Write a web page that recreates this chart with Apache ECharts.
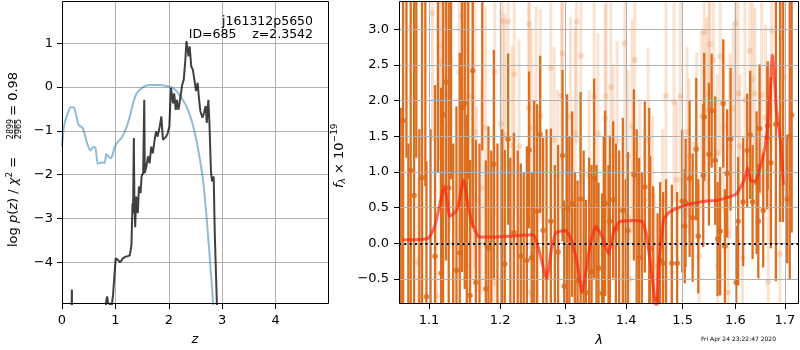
<!DOCTYPE html>
<html><head><meta charset="utf-8">
<script src="https://cdn.jsdelivr.net/npm/echarts@6/dist/echarts.min.js"></script>
<style>html,body{margin:0;padding:0;background:#fff}#c{width:800px;height:350px}</style>
</head><body><div id="c"></div>
<script>
// ---------------- tick labels ----------------
const zTicks = [0, 1, 2, 3, 4];
const logpTicks = [-4, -3, -2, -1, 0, 1];
const lamTicks = [1.1, 1.2, 1.3, 1.4, 1.5, 1.6, 1.7];
const fluxTicks = [-0.5, 0, 0.5, 1, 1.5, 2, 2.5, 3];

// ---------------- left panel: log p(z) and chi2 curve ----------------
const pzZ = [0.170,0.185,0.192,0.80,0.83,0.845,0.86,0.93,0.955,1.005,1.05,1.09,1.14,1.19,1.23,1.27,1.30,1.32,1.33,1.345,1.355,1.37,1.39,1.42,1.44,1.47,1.49,1.52,1.54,1.55,1.58,1.61,1.64,1.67,1.70,1.73,1.76,1.79,1.83,1.86,1.89,1.92,1.95,1.98,2.01,2.04,2.08,2.10,2.13,2.15,2.18,2.21,2.25,2.28,2.31,2.33,2.35,2.37,2.39,2.42,2.45,2.48,2.51,2.54,2.56,2.59,2.63,2.66,2.69,2.71,2.74,2.76,2.79,2.81,2.84,2.86,2.90,2.92];
const pzVal = [-6.0,-4.62,-6.0,-5.3,-4.86,-4.78,-4.92,-5.0,-4.75,-3.91,-3.95,-4.0,-3.91,-3.87,-3.86,-3.84,-3.6,-2.65,-2.88,-1.16,-2.58,-3.2,-2.5,-2.88,-2.27,-2.42,-2.04,-1.96,-0.29,-1.96,-1.81,-1.58,-1.74,-1.36,-1.51,-1.24,-1.01,-1.13,-0.90,-0.67,-1.2,-1.24,-1.13,-1.05,-0.9,-0.02,-0.37,-0.14,-0.52,-0.29,-0.52,-0.29,0.05,0.17,0.63,1.05,1.05,0.7,0.93,0.47,0.40,0.36,-0.09,0.1,-0.2,-0.55,-0.70,-0.58,-0.43,-0.82,-0.29,-0.82,-1.96,-2.15,-2.04,-3.34,-4.95,-6.0];
const chi2Z = [0,0.02,0.05,0.11,0.16,0.22,0.27,0.31,0.39,0.47,0.53,0.59,0.63,0.67,0.74,0.80,0.83,0.88,0.92,0.99,1.05,1.11,1.20,1.27,1.33,1.40,1.52,1.64,1.83,2.01,2.11,2.20,2.33,2.44,2.54,2.64,2.70,2.76,2.83,2.86];
const chi2Val = [-1.36,-1.05,-0.82,-0.59,-0.46,-0.46,-0.67,-0.86,-0.94,-1.28,-1.45,-1.36,-1.4,-1.75,-1.72,-1.73,-1.53,-1.6,-1.62,-1.36,-1.24,-1.17,-0.94,-0.67,-0.37,-0.14,0,0.05,0.05,0.01,-0.05,-0.18,-0.44,-0.82,-1.36,-2.12,-2.88,-3.79,-4.95,-5.6];

// ---------------- right panel: spectrum ----------------
const darkLam = [1.0656,1.0756,1.0800,1.0906,1.0965,1.1081,1.1163,1.1190,1.1231,1.1268,1.1375,1.1421,1.1453,1.1491,1.1566,1.1604,1.1648,1.1791,1.1829,1.1907,1.2068,1.2117,1.2202,1.2306,1.2398,1.2432,1.2473,1.2555,1.2601,1.2647,1.2767,1.2881,1.2951,1.2976,1.3024,1.3104,1.3191,1.3240,1.3326,1.3419,1.3462,1.3534,1.3593,1.3644,1.3723,1.3778,1.3824,1.3942,1.4028,1.4132,1.4222,1.4322,1.4417,1.4548,1.4593,1.4647,1.4804,1.4900,1.4993,1.5055,1.5129,1.5185,1.5252,1.5290,1.5383,1.5401,1.5491,1.5542,1.5610,1.5656,1.5764,1.5796,1.5840,1.5907,1.6016,1.6055,1.6153,1.6233,1.6293,1.6340,1.6421,1.6481,1.6554,1.6635,1.6710,1.6813,1.7047,
1.5040,1.5705,1.6455,1.6645,
1.0625,1.0700,1.0725,1.0830,1.0870,1.0950,1.1020,1.1120,1.1300,1.1330,1.1520,1.1540,1.1700,1.1740,1.1870,1.1960,1.2030,1.2150,1.2260,1.2350,1.2510,1.2700,1.2830,1.3060,1.3150,1.3290,1.3380,1.3500,1.3620,1.3700,1.3880,1.3990,1.4180,1.4270,1.4400,1.4470,1.4700,1.6900,1.6960,1.7140,1.7100];
const darkFlux = [1.72,1.02,0.67,0.92,-0.75,-0.18,-0.42,1.80,2.26,0.78,-0.38,-0.13,1.90,1.96,-0.73,2.42,-0.55,-0.64,-0.06,1.11,-0.29,1.46,0.15,-0.18,-0.24,1.31,-0.20,0.45,1.53,0.18,0.31,-0.12,1.23,-0.60,0.49,0.55,-0.52,0.62,-0.69,-0.40,0.91,-0.35,-0.70,0.56,0.31,0.61,0.20,0.46,0.18,0.96,-0.20,0.79,-0.07,-0.78,-0.24,-0.28,-0.28,-0.28,0.59,0.57,0.91,0.36,1.32,0.10,0.95,1.77,1.25,1.86,1.16,0.06,1.96,-0.04,0.98,1.46,-0.55,0.31,0.58,1.30,1.52,0.58,0.85,1.61,0.46,1.48,1.13,1.67,0.62,
0.24,0.17,0.31,1.65,
-1.1,3.7,-1.3,3.6,-1.0,3.8,-1.2,3.6,3.5,-1.1,-1.0,3.7,-1.2,3.5,-1.1,-1.0,-1.3,-1.0,-1.1,-1.0,-1.2,-1.0,-1.1,-1.2,-1.0,-1.1,-1.0,-1.2,-1.1,-1.0,-1.1,-1.0,-1.2,-1.0,-1.1,-1.0,-1.0,3.8,3.7,1.8,1.5];
const darkErr = [2.6,2.5,2.9,2.7,1.9,2.4,2.6,2.8,2.5,2.6,2.3,2.8,2.3,2.6,1.9,2.2,2.0,1.8,1.7,1.6,
1.6,1.2,1.4,1.3,1.6,1.1,1.2,1.5,1.1,1.3,1.3,1.5,1.2,1.2,1.6,1.3,1.4,1.5,1.3,1.5,1.4,1.2,1.4,1.3,1.2,1.1,1.2,1.3,1.1,1.2,1.4,1.2,1.3,1.2,1.1,1.0,1.1,
1.0,1.0,0.9,1.1,0.9,1.0,0.8,1.0,0.9,1.0,0.8,0.9,0.8,0.9,0.8,0.9,1.0,0.8,0.9,0.9,0.8,0.9,0.8,1.0,0.9,0.8,1.0,1.2,2.2,0.9,
0.8,0.9,0.8,0.9,
3.0,2.5,2.7,2.4,2.6,3.0,2.8,2.6,2.6,2.5,2.8,2.8,2.6,2.2,2.4,2.4,2.9,2.2,2.4,2.0,3.2,2.6,2.2,2.7,2.0,2.4,2.2,2.3,2.6,2.1,2.4,1.9,2.8,2.0,3.0,1.8,1.9,3.5,3.4,1.65,2.0];

const lightLam = [1.1046,1.1135,1.1154,1.1223,1.1281,1.1416,1.1453,1.1500,1.1518,1.1594,1.1599,1.1632,1.1656,1.1727,1.1784,1.1920,1.2011,1.2041,1.2117,1.2068,1.2178,1.2208,1.2279,1.2423,1.2438,1.2473,1.2538,1.2606,1.2767,1.2818,1.2876,1.2934,1.2951,1.3078,1.3151,1.3174,1.3244,1.3381,1.3462,1.3524,1.3644,1.3661,1.3739,1.3778,1.3845,1.3976,1.4032,1.4101,1.4147,1.4234,1.4322,1.4380,1.4458,1.4637,1.4697,1.4842,1.4958,1.5081,1.5119,1.5260,1.5353,1.5401,1.5446,1.5491,1.5509,1.5579,1.5648,1.5705,1.5776,1.5893,1.5958,1.6005,1.6055,1.6187,1.6286,1.6340,1.6386,1.6521,1.6602,1.6725,1.6918,1.6987,
1.0853,1.1100,1.1529,1.1911,1.2458,1.3130,1.3419,1.4059,1.4498,1.4800,1.5303,1.5656,1.5858,1.6141,1.6655,1.6897,
1.4889,1.5191,1.6087,1.6670];
const lightFlux = [3.23,2.76,2.55,2.09,1.64,2.40,3.19,2.73,2.07,2.06,1.11,1.56,0.61,0.78,1.62,2.40,1.68,3.11,3.11,1.52,1.37,2.37,1.36,1.90,3.07,1.62,1.62,1.78,2.46,1.45,0.95,2.07,2.66,1.77,1.54,3.11,2.63,0.95,2.06,1.54,1.75,2.06,2.19,1.22,1.44,2.80,1.22,1.64,2.57,0.92,0.61,1.45,0.69,0.60,2.07,1.98,2.06,1.56,1.22,1.37,1.78,2.96,1.87,2.09,2.79,2.57,1.27,2.62,1.64,1.36,1.89,3.08,2.10,2.01,2.70,2.30,2.10,2.08,1.76,2.98,2.88,2.33,
-0.27,-0.74,-0.32,-0.56,-0.69,-0.22,-0.08,-0.50,-0.32,-0.41,-0.18,-0.32,-0.69,-0.20,-0.54,-0.15,
0.89,0.54,1.36,1.45];
const lightErr = [1.8,1.6,2.0,1.7,1.5,1.9,1.6,2.1,1.4,1.8,1.6,1.9,1.3,1.5,1.7,2.0,1.6,1.8,1.5,1.7,1.4,1.9,1.5,1.6,1.8,1.4,1.7,1.5,2.0,1.3,1.2,1.6,1.9,1.4,1.5,1.7,1.8,1.2,1.5,1.4,1.6,1.8,1.5,1.3,1.4,1.9,1.2,1.5,1.7,1.1,1.0,1.3,1.1,1.0,1.6,1.4,1.5,1.2,1.1,1.3,1.2,1.5,1.3,1.4,1.6,1.5,1.1,1.4,1.2,1.3,1.2,1.6,1.3,1.4,1.5,1.3,1.2,1.4,1.3,1.7,1.8,1.6,
1.2,1.0,1.3,1.1,1.2,1.0,1.1,0.9,1.0,0.9,1.0,0.8,0.9,0.8,0.9,1.0,
1.1,0.9,1.0,1.1];

const modelLam = [1.0656,1.0987,1.1077,1.1212,1.1281,1.1349,1.1395,1.1473,1.1556,1.1626,1.1696,1.1907,1.2149,1.2493,1.2568,1.2704,1.2768,1.2845,1.3000,1.3078,1.3184,1.3263,1.3316,1.3397,1.3490,1.3589,1.3700,1.3784,1.3879,1.4097,1.4270,1.4358,1.4477,1.4530,1.4566,1.4656,1.4747,1.4992,1.5178,1.5430,1.5687,1.6013,1.6178,1.6243,1.6310,1.6412,1.6549,1.6618,1.6688,1.6742,1.6826,1.6911,1.6968];
const modelFlux = [0.05,0.07,0.24,0.80,0.38,0.43,0.50,0.89,0.43,0.20,0.09,0.09,0.10,0.12,-0.04,-0.50,-0.13,0.15,0.18,0.08,-0.27,-0.69,-0.46,-0.01,0.24,0.10,-0.15,0.15,0.30,0.32,0.31,0.10,-0.64,-0.95,-0.32,0.33,0.43,0.52,0.56,0.59,0.61,0.69,0.89,1.06,0.87,0.89,1.22,1.47,2.01,2.64,1.87,1.41,0.82];

// ---------------- build ----------------
const FONT = 'DejaVu Sans';
const minus = s => String(s).replace('-', '\u2212');
const zip = (...a) => a[0].map((_, i) => a.map(x => x[i]));

const ctx = document.createElement('canvas').getContext('2d');
function tw(t, size, italic) { ctx.font = (italic ? 'italic ' : '') + size + 'px "' + FONT + '"'; return ctx.measureText(t).width; }
function seq(pieces, x0) {
  let x = x0;
  return pieces.map(p => {
    const el = {type: 'text', x: x, y: p.dy || 0, style: {text: p.t, fontSize: p.size, fontStyle: p.it ? 'italic' : 'normal', fontFamily: FONT, fill: '#000', align: 'left', verticalAlign: 'middle'}};
    x += tw(p.t, p.size, p.it);
    return el;
  });
}
function txt(t, x, y, size, align, extra) {
  return Object.assign({type: 'text', x: x, y: y, style: {text: t, fontSize: size, fontFamily: FONT, fill: '#000', align: align || 'left', verticalAlign: 'middle'}}, extra || {});
}

function errRender(color, width) {
  return function (params, api) {
    const x = api.value(0), y = api.value(1), e = api.value(2);
    const p1 = api.coord([x, y - e]), p2 = api.coord([x, y + e]);
    return {type: 'line', shape: {x1: p1[0], y1: p1[1], x2: p2[0], y2: p2[1]}, style: {stroke: color, lineWidth: width}};
  };
}

const tickStyle = {show: true, length: 5, lineStyle: {color: '#000', width: 1}};
const gridLine = {show: true, lineStyle: {color: '#b0b0b0', width: 1}};
const noLine = {show: false, onZero: false};

const leftLabel = {
  type: 'group', x: 14, y: 247, rotation: Math.PI / 2, z: 100,
  children: [].concat(
    seq([{t: 'log ', size: 13}, {t: 'p', size: 13, it: true}, {t: '(', size: 13}, {t: 'z', size: 13, it: true}, {t: ') / ', size: 13}, {t: '\u03c7', size: 13, it: true}, {t: '2', size: 9, dy: -4}, {t: ' = ', size: 13}], 0),
    [
      {type: 'text', x: 118, y: -3, style: {text: '2899', fontSize: 8, fontFamily: FONT, fill: '#000', align: 'center', verticalAlign: 'middle'}},
      {type: 'line', shape: {x1: 109.5, y1: 1, x2: 127, y2: 1}, style: {stroke: '#000', lineWidth: 0.8}},
      {type: 'text', x: 118, y: 5, style: {text: '2965', fontSize: 8, fontFamily: FONT, fill: '#000', align: 'center', verticalAlign: 'middle'}}
    ],
    seq([{t: ' = 0.98', size: 13}], 127)
  )
};
const rightLabel = {
  type: 'group', x: 339.5, y: 188, rotation: Math.PI / 2, z: 100,
  children: seq([{t: 'f', size: 13, it: true}, {t: '\u03bb', size: 9, it: true, dy: 3}, {t: ' \u00d7 10', size: 13}, {t: '\u221219', size: 9, dy: -5}], 0)
};

const option = {
  animation: false,
  textStyle: {fontFamily: FONT},
  grid: [
    {left: 62, top: 1, width: 266, height: 303},
    {left: 399, top: 1, width: 400, height: 303}
  ],
  xAxis: [
    {gridIndex: 0, type: 'value', min: 0, max: 4.98, position: 'bottom',
     axisLine: noLine, axisTick: Object.assign({customValues: zTicks}, tickStyle),
     axisLabel: {customValues: zTicks, color: '#000', fontSize: 13, margin: 10, formatter: v => minus(v)},
     splitLine: gridLine},
    {gridIndex: 1, type: 'log', min: 1.0603, max: 1.7295, z: 3, position: 'bottom',
     axisLine: noLine, axisTick: Object.assign({customValues: lamTicks}, tickStyle),
     axisLabel: {customValues: lamTicks, color: '#000', fontSize: 13, margin: 10, formatter: v => (+v).toFixed(1)},
     splitLine: gridLine, minorTick: {show: false}, minorSplitLine: {show: false}}
  ],
  yAxis: [
    {gridIndex: 0, type: 'value', min: -4.952, max: 1.966, position: 'left',
     axisLine: noLine, axisTick: Object.assign({customValues: logpTicks}, tickStyle),
     axisLabel: {customValues: logpTicks, color: '#000', fontSize: 13, margin: 9, formatter: v => minus(v)},
     splitLine: gridLine},
    {gridIndex: 1, type: 'value', min: -0.850, max: 3.397, z: 3, position: 'left',
     axisLine: noLine, axisTick: Object.assign({customValues: fluxTicks}, tickStyle),
     axisLabel: {customValues: fluxTicks, color: '#000', fontSize: 13, margin: 10, formatter: v => minus((+v).toFixed(1))},
     splitLine: gridLine}
  ],
  series: [
    {type: 'line', xAxisIndex: 0, yAxisIndex: 0, data: zip(chi2Z, chi2Val), showSymbol: false, smooth: 0.2,
     lineStyle: {color: 'rgba(31,119,180,0.5)', width: 2}, z: 3},
    {type: 'line', xAxisIndex: 0, yAxisIndex: 0, data: zip(pzZ, pzVal), showSymbol: false,
     lineStyle: {color: 'rgba(0,0,0,0.75)', width: 2}, z: 4},
    {type: 'custom', xAxisIndex: 1, yAxisIndex: 1, clip: true, z: 1,
     data: zip(lightLam, lightFlux, lightErr), encode: {x: 0, y: 1},
     renderItem: errRender('rgba(238,140,70,0.25)', 3)},
    {type: 'scatter', xAxisIndex: 1, yAxisIndex: 1, z: 1, clip: true,
     data: zip(lightLam, lightFlux), symbolSize: 6,
     itemStyle: {color: 'rgba(232,130,60,0.3)'}},
    {type: 'custom', xAxisIndex: 1, yAxisIndex: 1, clip: true, z: 2,
     data: zip(darkLam, darkFlux, darkErr), encode: {x: 0, y: 1},
     renderItem: errRender('rgb(220,110,32)', 2.3)},
    {type: 'scatter', xAxisIndex: 1, yAxisIndex: 1, z: 4, clip: true,
     data: zip(darkLam, darkFlux), symbolSize: 5.5,
     itemStyle: {color: 'rgb(218,104,24)'}},
    {type: 'line', xAxisIndex: 1, yAxisIndex: 1, z: 5, clip: true,
     data: zip(modelLam, modelFlux), showSymbol: false, smooth: 0.15,
     lineStyle: {color: 'rgba(255,30,10,0.65)', width: 3},
     markLine: {silent: true, symbol: 'none', label: {show: false}, animation: false,
       data: [{yAxis: 0}], lineStyle: {color: '#000', type: [2, 3.3], width: 2}}}
  ],
  graphic: [
    {type: 'rect', z: 100, shape: {x: 62.5, y: 1.5, width: 266, height: 302}, style: {fill: 'none', stroke: '#000', lineWidth: 1}},
    {type: 'rect', z: 100, shape: {x: 399.5, y: 1.5, width: 399, height: 302}, style: {fill: 'none', stroke: '#000', lineWidth: 1}},
    txt('j161312p5650', 313, 22, 12.5, 'right', {z: 100}),
    txt('ID=685    z=2.3542', 313, 35, 12.5, 'right', {z: 100}),
    leftLabel,
    rightLabel,
    {type: 'text', x: 195, y: 339.5, z: 100, style: {text: 'z', fontSize: 13, fontStyle: 'italic', fontFamily: FONT, fill: '#000', align: 'center', verticalAlign: 'middle'}},
    {type: 'text', x: 599, y: 341, z: 100, style: {text: '\u03bb', fontSize: 13, fontStyle: 'italic', fontFamily: FONT, fill: '#000', align: 'center', verticalAlign: 'middle'}},
    txt('Fri Apr 24 23:22:47 2020', 701, 339.5, 6, 'left', {z: 100})
  ]
};

const chart = echarts.init(document.getElementById('c'), null, {renderer: 'canvas'});
chart.setOption(option);
</script>
</body></html>
